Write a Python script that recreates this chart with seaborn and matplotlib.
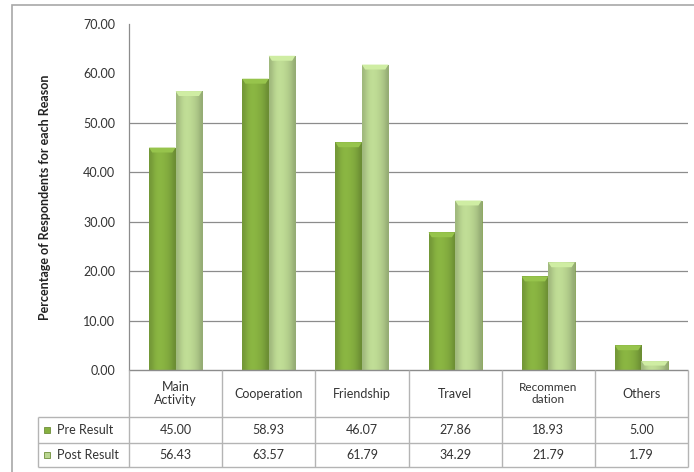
import matplotlib
matplotlib.use("Agg")
import matplotlib.pyplot as plt
import matplotlib.colors as mcolors
from matplotlib.patches import Rectangle, Polygon
import numpy as np
import pandas as pd
import seaborn as sns

# ---- data ----
categories = ["Main\nActivity", "Cooperation", "Friendship", "Travel", "Recommen\ndation", "Others"]
series_names = ["Pre Result", "Post Result"]
pre_result = [45.00, 58.93, 46.07, 27.86, 18.93, 5.00]
post_result = [56.43, 63.57, 61.79, 34.29, 21.79, 1.79]
y_ticks = [0, 10, 20, 30, 40, 50, 60, 70]
grid_values = [10, 20, 30, 40, 50]
y_label = "Percentage of Respondents for each Reason"
series_colors = ["#86b040", "#bad691"]

df = pd.DataFrame({
    "Reason": categories * 2,
    "Series": [series_names[0]] * len(categories) + [series_names[1]] * len(categories),
    "Percent": pre_result + post_result,
})

sns.set_theme(style="white")
plt.rcParams["font.family"] = ["Lato", "DejaVu Sans"]

W, H = 694, 472
fig = plt.figure(figsize=(W / 100, H / 100), dpi=100)


def box(x0, y0, x1, y1):
    """Pixel box with top-left origin -> figure fraction rect."""
    return [x0 / W, 1 - y1 / H, (x1 - x0) / W, (y1 - y0) / H]


# outer chart frame
fig.add_artist(Rectangle((12 / W, -0.05), 1.0, 1.05 - 5 / H, transform=fig.transFigure,
                         fill=False, edgecolor="#a8a8a8", lw=1.2))

# ---- bar chart ----
ax = fig.add_axes(box(129, 24, 688, 370))
sns.barplot(data=df, x="Reason", y="Percent", hue="Series", palette=series_colors,
            width=0.57, gap=0.0, ax=ax, legend=False, saturation=1,
            edgecolor="#6f8f3a", linewidth=0.5, zorder=3)
ax.set_xlim(-0.5, len(categories) - 0.5)
ax.set_ylim(0, 70)

# shaded, bevelled look on each bar
for i, patch in enumerate(ax.patches):
    x, y = patch.get_x(), patch.get_y()
    w, h = patch.get_width(), patch.get_height()
    if h <= 0:
        continue
    base = np.array(mcolors.to_rgb(patch.get_facecolor()))
    prof = np.array([0.86, 0.95, 1.02, 1.04, 1.03, 1.0, 0.96, 0.9, 0.8])
    grad = np.clip(base[None, :] * prof[:, None], 0, 1)[None, :, :]
    im = ax.imshow(grad, extent=(x, x + w, y, y + h), aspect="auto",
                   interpolation="bicubic", zorder=3.5)
    im.set_clip_path(patch)
    cap = min(1.0, h * 0.5)
    inset = w * 0.12
    top = y + h
    light = np.clip(base * 1.07 + 0.03, 0, 1)
    ax.add_patch(Polygon([[x, top], [x + w, top], [x + w - inset, top - cap], [x + inset, top - cap]],
                         closed=True, facecolor=light, edgecolor="none", zorder=3.6))
ax.set_xlim(-0.5, len(categories) - 0.5)
ax.set_ylim(0, 70)

ax.hlines(grid_values, -0.5, len(categories) - 0.5, colors="#8c8c8c", lw=0.9, zorder=1)
ax.set_yticks(y_ticks)
ax.set_yticklabels([f"{v:.2f}" for v in y_ticks], fontsize=9, color="#333333")
ax.tick_params(axis="y", length=0, pad=10)
ax.set_xticks([])
ax.set_xlabel("")
ax.set_ylabel("")
for side in ["top", "right", "bottom"]:
    ax.spines[side].set_visible(False)
ax.spines["left"].set_color("#8c8c8c")
ax.spines["left"].set_linewidth(0.9)

fig.text(45 / W, 1 - 197 / H, y_label, rotation=90, ha="center", va="center",
         fontsize=9, fontweight="bold", color="#222222")

# ---- data table under the chart ----
n = len(categories)
cat_px = (688 - 129) / n
left_x = -0.5 - (129 - 38) / cat_px
tax = fig.add_axes(box(38, 370, 688, 467))
tax.set_xlim(left_x, n - 0.5)
tax.set_ylim(97, 0)
tax.axis("off")

line_kw = dict(colors="#b4b4b4", lw=1.0, clip_on=False)
tax.hlines(0, -0.5, n - 0.5, colors="#8c8c8c", lw=1.0, clip_on=False)
tax.hlines([47, 73, 97], left_x, n - 0.5, **line_kw)
tax.vlines([k - 0.5 for k in range(n + 1)], 0, 97, **line_kw)
tax.vlines(left_x, 47, 97, **line_kw)

for i, name in enumerate(categories):
    fs = 8.5 if name.startswith("Recommen") else 9
    tax.text(i, 23.5, name, ha="center", va="center", fontsize=fs,
             color="#333333", linespacing=1.15)
    tax.text(i, 60, f"{pre_result[i]:.2f}", ha="center", va="center", fontsize=9, color="#333333")
    tax.text(i, 85, f"{post_result[i]:.2f}", ha="center", va="center", fontsize=9, color="#333333")

for row_y, name, col in zip([60, 85], series_names, series_colors):
    sq = 6 / cat_px
    tax.add_patch(Rectangle((left_x + 6 / cat_px, row_y - 3.2), sq, 6.4, facecolor=col,
                            edgecolor="#6f8f3a", lw=0.6, clip_on=False))
    tax.text(left_x + 19 / cat_px, row_y, name, ha="left", va="center", fontsize=9, color="#333333")

fig.savefig("out.png", dpi=100)
